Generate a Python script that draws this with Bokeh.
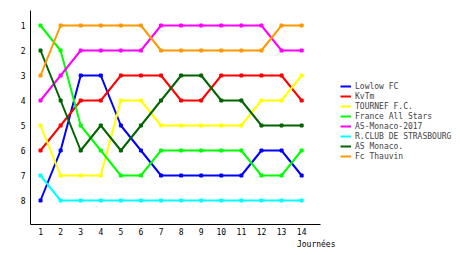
from bokeh.plotting import figure
from bokeh.models import Range1d, FixedTicker, Legend, LegendItem, Title
from bokeh.embed import file_html
from bokeh.resources import INLINE

days = list(range(1, 15))
teams = ["Lowlow FC", "KvTm", "TOURNEF F.C.", "France All Stars",
         "AS-Monaco-2017", "R.CLUB DE STRASBOURG", "AS Monaco.", "Fc Thauvin"]
colors = ["#0000FF", "#FF0000", "#FFFF00", "#00FF00",
          "#FF00FF", "#00FFFF", "#006400", "#FF9900"]
lowlow = [8, 6, 3, 3, 5, 6, 7, 7, 7, 7, 7, 6, 6, 7]
kvtm = [6, 5, 4, 4, 3, 3, 3, 4, 4, 3, 3, 3, 3, 4]
tournef = [5, 7, 7, 7, 4, 4, 5, 5, 5, 5, 5, 4, 4, 3]
france = [1, 2, 5, 6, 7, 7, 6, 6, 6, 6, 6, 7, 7, 6]
asmonaco2017 = [4, 3, 2, 2, 2, 2, 1, 1, 1, 1, 1, 1, 2, 2]
strasbourg = [7, 8, 8, 8, 8, 8, 8, 8, 8, 8, 8, 8, 8, 8]
asmonaco = [2, 4, 6, 5, 6, 5, 4, 3, 3, 4, 4, 5, 5, 5]
thauvin = [3, 1, 1, 1, 1, 1, 2, 2, 2, 2, 2, 2, 1, 1]
series = [lowlow, kvtm, tournef, france, asmonaco2017, strasbourg, asmonaco, thauvin]
xlabel = "Journées"

FONT = "DejaVu Sans Mono"
FS = "8px"

p = figure(width=460, height=255, output_backend="svg", toolbar_location=None,
           x_range=Range1d(0.5, 21.91), y_range=Range1d(8.96, 0.4),
           min_border_left=30, min_border_right=0, min_border_top=10,
           min_border_bottom=31)
p.outline_line_color = None
p.xgrid.visible = False
p.ygrid.visible = False
p.background_fill_color = "white"
p.border_fill_color = "white"

for ax in (p.xaxis[0], p.yaxis[0]):
    ax.axis_line_color = "black"
    ax.axis_line_width = 1
    ax.major_tick_line_color = None
    ax.minor_tick_line_color = None
    ax.major_tick_out = 0
    ax.major_tick_in = 0
    ax.minor_tick_out = 0
    ax.minor_tick_in = 0
    ax.major_label_text_font = FONT
    ax.major_label_text_font_size = FS
    ax.major_label_text_color = "black"
p.xaxis.ticker = FixedTicker(ticks=days)
p.yaxis.ticker = FixedTicker(ticks=list(range(1, 9)))
p.xaxis.bounds = (0.5, 14.94)
p.xaxis.major_label_standoff = 3
p.yaxis.major_label_standoff = 5

items = []
for name, col, ys in zip(teams, colors, series):
    r = p.line(days, ys, line_color=col, line_width=2)
    p.scatter(days, ys, marker="square", size=3, fill_color=col, line_color=col)
    items.append(LegendItem(label=name, renderers=[r]))

legend = Legend(items=items, location=(310, 63), orientation="vertical",
                label_text_font=FONT, label_text_font_size=FS,
                glyph_width=11, glyph_height=10, label_height=10,
                spacing=0, padding=0, margin=0, label_standoff=4,
                border_line_color=None, background_fill_alpha=0)
p.add_layout(legend, "center")

p.add_layout(Title(text=xlabel, align="right", offset=125, text_font=FONT,
                   text_font_size=FS, text_font_style="normal",
                   text_color="black", standoff=0), "below")

open("out.html", "w").write(file_html(p, INLINE))
